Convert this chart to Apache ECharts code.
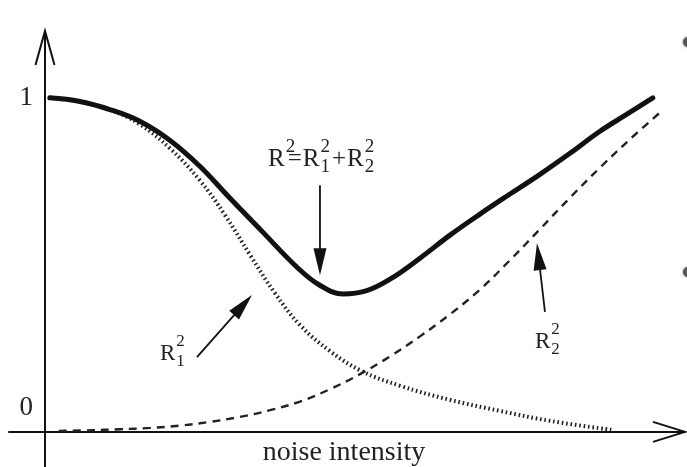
<!DOCTYPE html>
<html>
<head>
<meta charset="utf-8">
<script src="https://cdn.jsdelivr.net/npm/echarts@6/dist/echarts.min.js"></script>
<style>
  html, body { margin: 0; padding: 0; background: #fff; }
  #chart { width: 687px; height: 467px; }
</style>
</head>
<body>
<div id="chart"></div>
<script>
// Total explained variance R^2 (thick solid curve)
const totalX = [0.08, 0.58, 1.08, 1.58, 2.08, 2.58, 3.08, 3.63, 4.20, 4.58, 4.97, 5.35, 5.75, 6.25, 6.75, 7.25, 7.75, 8.25, 8.75, 9.25, 9.70, 10.13];
const totalY = [1.000, 0.989, 0.965, 0.930, 0.873, 0.795, 0.700, 0.598, 0.493, 0.439, 0.413, 0.422, 0.457, 0.520, 0.589, 0.652, 0.712, 0.771, 0.834, 0.900, 0.951, 1.000];

// First component R1^2 (dotted curve)
const r1X = [0.08, 0.58, 1.08, 1.58, 2.08, 2.58, 3.00, 3.42, 3.83, 4.25, 4.75, 5.27, 5.92, 6.75, 7.58, 8.42, 9.45];
const r1Y = [1.000, 0.989, 0.965, 0.921, 0.849, 0.753, 0.649, 0.529, 0.416, 0.320, 0.242, 0.183, 0.138, 0.096, 0.063, 0.033, 0.006];

// Second component R2^2 (dashed curve)
const r2X = [0.23, 0.75, 1.25, 1.75, 2.25, 2.75, 3.25, 3.75, 4.25, 4.75, 5.25, 5.75, 6.25, 6.75, 7.25, 7.75, 8.25, 8.75, 9.25, 9.75, 10.27];
const r2Y = [0.003, 0.005, 0.008, 0.012, 0.019, 0.030, 0.045, 0.065, 0.091, 0.128, 0.173, 0.226, 0.286, 0.352, 0.426, 0.514, 0.607, 0.701, 0.791, 0.876, 0.959];

// Axis ticks and title
const yTickValues = [0, 1];
const xAxisTitle = 'noise intensity';

// Annotations: label anchor (left of "R", centre of the capital) and arrow tail/tip, in data units
const annotations = [
  { pieces: [{ t: 'R' }, { sup: '2' }, { t: '=' }, { t: 'R' }, { sup: '2', sub: '1' }, { t: '+' }, { t: 'R' }, { sup: '2', sub: '2' }],
    at: [3.717, 0.815], tail: [4.583, 0.738], tip: [4.583, 0.469], big: 25, small: 19 },
  { pieces: [{ t: 'R' }, { sup: '2', sub: '1' }],
    at: [1.917, 0.233], tail: [2.533, 0.224], tip: [3.45, 0.410], big: 23, small: 17 },
  { pieces: [{ t: 'R' }, { sup: '2', sub: '2' }],
    at: [8.167, 0.268], tail: [8.333, 0.359], tip: [8.20, 0.565], big: 23, small: 17 }
];

const INK = '#111';
const TEXT = '#222';
const SERIF = '"Liberation Serif", "DejaVu Serif", serif';

const zip = (xs, ys) => xs.map((x, i) => [x, ys[i]]);

const chart = echarts.init(document.getElementById('chart'), null, { renderer: 'canvas' });

const X_MIN = -0.6, X_MAX = 10.667, Y_MIN = -0.105, Y_MAX = 1.2;

chart.setOption({
  animation: false,
  backgroundColor: '#fff',
  grid: { left: 9, right: 2, top: 31, bottom: 0, containLabel: false, outerBoundsMode: 'none' },
  xAxis: {
    type: 'value', min: X_MIN, max: X_MAX,
    axisLine: { onZero: true, lineStyle: { color: INK, width: 2 } },
    axisTick: { show: false }, axisLabel: { show: false }, splitLine: { show: false }
  },
  yAxis: {
    type: 'value', min: Y_MIN, max: Y_MAX,
    axisLine: { onZero: true, lineStyle: { color: INK, width: 2 } },
    axisTick: { show: false }, axisLabel: { show: false }, splitLine: { show: false }
  },
  series: [
    { name: 'R2', type: 'line', data: zip(totalX, totalY), smooth: 0.4, showSymbol: false,
      lineStyle: { color: INK, width: 5, cap: 'round' }, z: 5 },
    { name: 'R1sq', type: 'line', data: zip(r1X, r1Y), smooth: 0.4, showSymbol: false,
      lineStyle: { color: TEXT, width: 4, type: [1.6, 2.8] }, z: 4 },
    { name: 'R2sq', type: 'line', data: zip(r2X, r2Y), smooth: 0.4, showSymbol: false,
      lineStyle: { color: TEXT, width: 2.4, type: [8, 6] }, z: 4 }
  ]
});

// text measuring for composing super/subscripts
const ctx = document.createElement('canvas').getContext('2d');
function textWidth(s, size) {
  ctx.font = size + 'px ' + SERIF;
  return ctx.measureText(s).width;
}

const px = p => chart.convertToPixel({ gridIndex: 0 }, p);
const graphics = [];

function addText(str, x, y, size, align) {
  graphics.push({ type: 'text', silent: true, z: 11, x: x, y: y,
    style: { text: str, font: size + 'px ' + SERIF, fill: TEXT, align: align || 'left', verticalAlign: 'middle' } });
}

// tick labels beside the vertical axis; the "0" sits above the horizontal axis
yTickValues.forEach(v => {
  const [x, y] = px([0, v]);
  addText(String(v), x - 12, v === 0 ? y - 24 : y, 27, 'right');
});

// axis title under the horizontal axis
{
  const [x, y] = px([(X_MIN + X_MAX) / 2, 0]);
  addText(xAxisTitle, x - 3, y + 21, 28, 'center');
}

// open V arrowheads at the axis ends
function openHead(tip, dir, len, half) {
  const [tx, ty] = tip;
  const [dx, dy] = dir;
  const nx = -dy, ny = dx;
  return {
    type: 'polyline', silent: true, z: 10,
    shape: { points: [
      [tx - dx * len + nx * half, ty - dy * len + ny * half],
      [tx, ty],
      [tx - dx * len - nx * half, ty - dy * len - ny * half]
    ] },
    style: { stroke: INK, lineWidth: 2, fill: null }
  };
}
graphics.push(openHead(px([0, Y_MAX]), [0, -1], 34, 9.5));
graphics.push(openHead(px([X_MAX, 0]), [1, 0], 32, 10));

// pointer arrows with filled heads
function pointer(tailD, tipD) {
  const [x0, y0] = px(tailD), [x1, y1] = px(tipD);
  const L = Math.hypot(x1 - x0, y1 - y0);
  const ux = (x1 - x0) / L, uy = (y1 - y0) / L;
  const head = 27, half = 6.5;
  const bx = x1 - ux * head, by = y1 - uy * head;
  graphics.push({ type: 'line', silent: true, z: 10,
    shape: { x1: x0, y1: y0, x2: bx + ux * 2, y2: by + uy * 2 },
    style: { stroke: INK, lineWidth: 1.8 } });
  graphics.push({ type: 'polygon', silent: true, z: 10,
    shape: { points: [[x1, y1], [bx - uy * half, by + ux * half], [bx + uy * half, by - ux * half]] },
    style: { fill: INK } });
}

// label with stacked superscript / subscript
function label(pieces, anchorD, big, small) {
  const [ax, ay] = px(anchorD);
  let x = ax;
  pieces.forEach(p => {
    if (p.t) {
      const gap = (p.t === '=' || p.t === '+') ? 1 : 0;
      x += gap;
      addText(p.t, x, ay, big);
      x += textWidth(p.t, big) + gap;
    } else {
      const sx = x + 1;
      addText(p.sup, sx, ay - 13, small);
      if (p.sub) {
        addText(p.sub, sx, ay + 7, small);
        x = sx + Math.max(textWidth(p.sup, small), textWidth(p.sub, small)) + 1;
      } else {
        x = sx + 1;
      }
    }
  });
}

annotations.forEach(a => {
  label(a.pieces, a.at, a.big, a.small);
  pointer(a.tail, a.tip);
});

// partial bullets peeking in at the right margin
[42, 272].forEach(y => graphics.push({
  type: 'circle', silent: true, z: 1,
  shape: { cx: 688, cy: y, r: 5 },
  style: { fill: '#555', shadowBlur: 3, shadowColor: 'rgba(0,0,0,0.5)' }
}));

chart.setOption({ graphic: graphics });
</script>
</body>
</html>
